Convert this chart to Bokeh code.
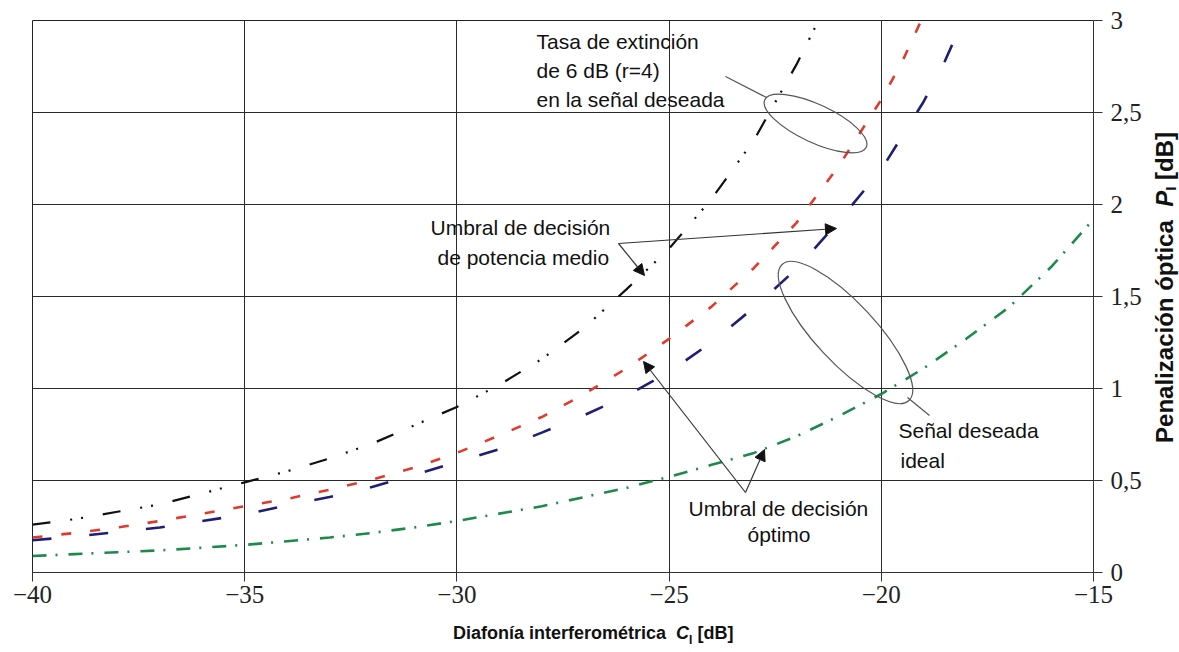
from bokeh.plotting import figure
from bokeh.layouts import column, row
from bokeh.models import (Range1d, FixedTicker, CustomJSTickFormatter, Label, Arrow,
                          NormalHead, ColumnDataSource, Div)
from bokeh.embed import file_html
from bokeh.resources import INLINE
import math

# ---------------- data ----------------
x_ticks = [-40, -35, -30, -25, -20, -15]
y_ticks = [0, 0.5, 1, 1.5, 2, 2.5, 3]

# Umbral de potencia medio, r=4 (black, dash-dot-dot)
x_black = [-40, -39, -38, -37, -36, -35, -34, -33, -32, -31, -30, -29, -28, -27, -26, -25, -24, -23, -22, -21.5]
y_black = [0.26, 0.29, 0.33, 0.37, 0.43, 0.49, 0.55, 0.62, 0.70, 0.80, 0.90, 1.02, 1.16, 1.33, 1.54, 1.76, 2.03, 2.35, 2.76, 2.99]

# Umbral óptimo, r=4 (red, short dash)
x_red = [-40, -39, -38, -37, -36, -35, -34, -33, -32, -31, -30, -29, -28, -27, -26, -25, -24, -23, -22, -21, -20, -19.5, -19]
y_red = [0.19, 0.215, 0.245, 0.28, 0.32, 0.36, 0.40, 0.45, 0.505, 0.57, 0.65, 0.745, 0.845, 0.97, 1.11, 1.27, 1.445, 1.655, 1.90, 2.21, 2.57, 2.78, 3.03]

# Umbral de potencia medio, señal ideal (blue, long dash)
x_blue = [-40, -39, -38, -37, -36, -35, -34, -33, -32, -31, -30, -29, -28, -27, -26, -25, -24, -23, -22, -21, -20, -19, -18.5, -18]
y_blue = [0.175, 0.195, 0.22, 0.245, 0.28, 0.315, 0.365, 0.41, 0.465, 0.53, 0.60, 0.67, 0.76, 0.855, 0.96, 1.09, 1.25, 1.44, 1.65, 1.91, 2.19, 2.56, 2.78, 3.04]

# Umbral óptimo, señal ideal (green, dash-dot)
x_green = [-40, -39, -38, -37, -36, -35, -34, -33, -32, -31, -30, -29, -28, -27, -26, -25, -24, -23, -22, -21, -20, -19, -18, -17, -16, -15]
y_green = [0.09, 0.10, 0.11, 0.12, 0.135, 0.15, 0.17, 0.19, 0.215, 0.245, 0.28, 0.32, 0.36, 0.41, 0.46, 0.52, 0.585, 0.65, 0.74, 0.85, 0.97, 1.11, 1.27, 1.44, 1.66, 1.92]

# ---------------- layout ----------------
FL, FT, FW, FH = 32, 20, 1061, 552   # frame position inside figure (page coords)
BR, BB = 55, 54
X0, X1, Y0, Y1 = -40.0, -15.0, 0.0, 3.0
PW = FL + FW + BR
PH = FT + FH + BB

def dx(px):
    return X0 + (px - FL) * (X1 - X0) / FW

def dy(py):
    return Y0 + (FT + FH - py) * (Y1 - Y0) / FH

p = figure(frame_width=FW, frame_height=FH,
           x_range=Range1d(X0, X1), y_range=Range1d(Y0, Y1),
           y_axis_location="right", toolbar_location=None, output_backend="svg",
           min_border_left=FL, min_border_top=FT, min_border_right=BR, min_border_bottom=BB)
p.background_fill_color = "white"
p.border_fill_color = "white"
p.outline_line_color = "#222222"
p.outline_line_width = 1

fmt = CustomJSTickFormatter(code="return tick.toString().replace('.', ',').replace('-', '\u2212');")
for ax, ticks in ((p.xaxis[0], x_ticks), (p.yaxis[0], y_ticks)):
    ax.ticker = FixedTicker(ticks=ticks)
    ax.formatter = fmt
    ax.axis_line_color = "#333333"
    ax.major_tick_line_color = "#333333"
    ax.major_tick_out = 9
    ax.major_tick_in = 0
    ax.minor_tick_line_color = None
    ax.major_label_text_font = "Liberation Serif"
    ax.major_label_text_font_size = "25px"
    ax.major_label_text_color = "#222222"
p.xaxis[0].major_label_standoff = 4
p.yaxis[0].major_label_standoff = 8

for g in (p.xgrid[0], p.ygrid[0]):
    g.grid_line_color = "#2a2a2a"
    g.grid_line_width = 1
    g.grid_line_alpha = 1.0

# ---------------- curves ----------------
p.line(x_black, y_black, line_color="#111111", line_width=2.2, line_dash="18 20 2 9 2 20")
p.line(x_red, y_red, line_color="#e03a2c", line_width=2.6, line_dash="10 19")
p.line(x_blue, y_blue, line_color="#1e1e78", line_width=2.6, line_dash="19 38")
p.line(x_green, y_green, line_color="#1d8a4c", line_width=2.6, line_dash="14 9 2 11")

# ---------------- annotations ----------------
ell_color = "#555555"
p.ellipse(x=[dx(815)], y=[dy(123)], width=[112], height=[38], angle=[-25 * math.pi / 180],
          width_units="screen", height_units="screen",
          fill_color=None, line_color=ell_color, line_width=1.2)
p.ellipse(x=[dx(845)], y=[dy(332)], width=[186], height=[60], angle=[-47 * math.pi / 180],
          width_units="screen", height_units="screen",
          fill_color=None, line_color=ell_color, line_width=1.2)

seg_src = ColumnDataSource(dict(x0=[dx(725), dx(907)], y0=[dy(76), dy(397)],
                                x1=[dx(766), dx(929)], y1=[dy(97), dy(415)]))
p.segment("x0", "y0", "x1", "y1", source=seg_src, line_color=ell_color, line_width=1.2)

def arrow(p0, p1):
    p.add_layout(Arrow(end=NormalHead(size=11, fill_color="#111111", line_color="#111111", line_width=1),
                       x_start=dx(p0[0]), y_start=dy(p0[1]), x_end=dx(p1[0]), y_end=dy(p1[1]),
                       line_color="#333333", line_width=1.2))

arrow((618, 243), (644, 275))
arrow((618, 243), (836, 228))
arrow((745, 492), (643, 361))
arrow((745, 492), (764, 449))

def txt(s, px, py, size="21px", style="normal"):
    p.add_layout(Label(x=dx(px), y=dy(py), text=s, text_font="Liberation Sans", text_font_size=size,
                       text_font_style=style, text_color="#111111", text_align="left",
                       text_baseline="middle"))

txt("Tasa de extinción", 536, 41)
txt("de 6 dB (r=4)", 536, 70)
txt("en la señal deseada", 536, 99)
txt("Umbral de decisión", 430, 227)
txt("de potencia medio", 437, 257)
txt("Señal deseada", 898, 430)
txt("ideal", 900, 460)
txt("Umbral de decisión", 688, 508)
txt("óptimo", 747, 534)

# ---------------- axis titles (HTML, with italic symbol and subscript) ----------------
RW = 1179 - PW
BH = 652 - PH
bottom_title = Div(width=PW + RW, height=BH, margin=0, text=(
    f'<div style="position:relative;width:{PW + RW}px;height:{BH}px;overflow:visible;">'
    '<span style="position:absolute;left:453px;top:0px;white-space:nowrap;'
    'font-family:\'Liberation Sans\';font-weight:bold;font-size:18px;line-height:14px;color:#111;">'
    'Diafonía interferométrica&nbsp;&nbsp;<i>C</i><sub style="font-size:12px;line-height:0;">I</sub>&nbsp;[dB]'
    '</span></div>'))

right_title = Div(width=RW, height=PH, margin=0, text=(
    f'<div style="position:relative;width:{RW}px;height:{PH}px;overflow:visible;">'
    f'<span style="position:absolute;left:5px;bottom:{PH - 443}px;white-space:nowrap;'
    'writing-mode:vertical-rl;transform:rotate(180deg);'
    'font-family:\'Liberation Sans\';font-weight:bold;font-size:24px;line-height:24px;color:#111;">'
    'Penalización óptica&nbsp;&nbsp;<i>P</i><sub style="font-size:15px;line-height:0;">I</sub>&nbsp;[dB]'
    '</span></div>'))

layout = column(row(p, right_title, spacing=0), bottom_title, spacing=0)

open("out.html", "w").write(file_html(layout, INLINE))
